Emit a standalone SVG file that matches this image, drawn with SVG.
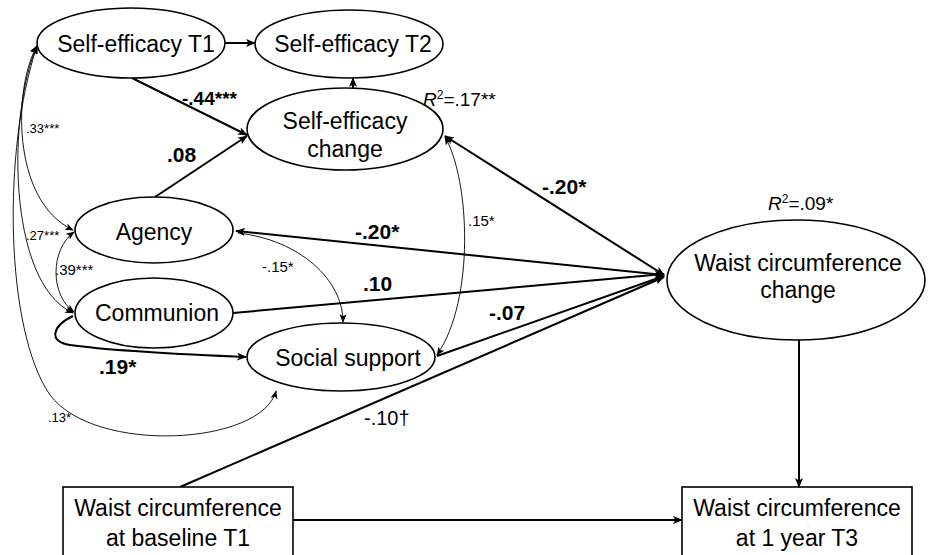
<svg xmlns="http://www.w3.org/2000/svg" width="929" height="555" viewBox="0 0 929 555">
  <style>
    .node ellipse, .node rect { fill: #fff; stroke: #000; stroke-width: 1.6; }
    .node text { font-family: "Liberation Sans", Arial, sans-serif; font-size: 23px; fill: #000; text-anchor: middle; }
    .path { fill: none; stroke: #000; stroke-width: 2; marker-end: url(#arrow); }
    .cov { fill: none; stroke: #000; stroke-width: 0.9; marker-start: url(#arrow-s); marker-end: url(#arrow-s); }
    .one { fill: none; stroke: #000; stroke-width: 0.9; marker-end: url(#arrow-s); }
    .lbl { font-family: "Liberation Sans", Arial, sans-serif; fill: #000; }
    .big { font-size: 21px; font-weight: bold; }
    .small { font-size: 13px; }
    .mid { font-size: 15px; }
    .r2 { font-size: 19px; }
  </style>
  <defs>
    <marker id="arrow" viewBox="0 0 10 8" refX="9" refY="4" markerWidth="10" markerHeight="8" markerUnits="userSpaceOnUse" orient="auto-start-reverse">
      <path d="M0,0 L10,4 L0,8 L2.5,4 z" fill="#000"/>
    </marker>
    <marker id="arrow-s" viewBox="0 0 10 8" refX="9" refY="4" markerWidth="9" markerHeight="7" markerUnits="userSpaceOnUse" orient="auto-start-reverse">
      <path d="M0,0 L10,4 L0,8 L2.5,4 z" fill="#000"/>
    </marker>
  </defs>

  <!-- connectors -->
  <g id="connectors">
    <!-- correlations on the left side -->
    <path class="cov" d="M37,46 C14,85 10,200 73,230"/>
    <path class="cov" d="M37,46 C8,110 6,282 73,313"/>
    <path class="cov" d="M37,46 C2,150 5,330 50,395 C95,455 262,445 276,391"/>
    <path class="cov" d="M74,232 C50,250 50,295 74,312"/>
    <!-- self-efficacy change with social support -->
    <path class="cov" d="M445,137 C470,180 475,300 437,355"/>
    <!-- agency to social support -->
    <path class="one" d="M238,233 C300,240 343,280 343,322"/>

    <!-- structural paths -->
    <path class="path" stroke-width="1.6" d="M225,43 L255,43"/>
    <path class="path" d="M132,78 L247,135"/>
    <path class="path" d="M155,197 L247,136"/>
    <path class="path" stroke-width="1.6" d="M353,88 L353,78"/>
    <path class="path" d="M445,136 L664,275" marker-start="url(#arrow)"/>
    <path class="path" d="M664,275 L236,231" marker-end="url(#arrow)"/>
    <path class="path" d="M233,313 L664,274"/>
    <path class="path" d="M437,356 L664,276"/>
    <path class="path" d="M180,487 L664,277"/>
    <path class="path" d="M73,316 C52,326 48,342 70,345 C120,352 200,355 246,357"/>
    <path class="path" stroke-width="1.6" d="M799,340 L799,487"/>
    <path class="path" stroke-width="1.6" d="M293,520 L682,520"/>
  </g>

  <!-- nodes -->
  <g id="se-t1" class="node">
    <ellipse cx="131" cy="43" rx="94" ry="35"/>
    <text x="136" y="52">Self-efficacy T1</text>
  </g>
  <g id="se-t2" class="node">
    <ellipse cx="349" cy="44" rx="94" ry="34"/>
    <text x="353" y="52">Self-efficacy T2</text>
  </g>
  <g id="se-change" class="node">
    <ellipse cx="345" cy="129" rx="98" ry="41"/>
    <text x="345" y="129">Self-efficacy</text>
    <text x="345" y="157">change</text>
  </g>
  <g id="agency" class="node">
    <ellipse cx="154" cy="230" rx="79" ry="33"/>
    <text x="154" y="240">Agency</text>
  </g>
  <g id="communion" class="node">
    <ellipse cx="154" cy="313" rx="79" ry="35"/>
    <text x="157" y="321">Communion</text>
  </g>
  <g id="social-support" class="node">
    <ellipse cx="341" cy="357" rx="94" ry="34"/>
    <text x="348" y="366">Social support</text>
  </g>
  <g id="waist-change" class="node">
    <ellipse cx="796" cy="280" rx="129" ry="60"/>
    <text x="798" y="271">Waist circumference</text>
    <text x="798" y="298">change</text>
  </g>
  <g id="waist-t1" class="node">
    <rect x="63" y="487" width="230" height="72"/>
    <text x="178" y="516">Waist circumference</text>
    <text x="178" y="546">at baseline T1</text>
  </g>
  <g id="waist-t3" class="node">
    <rect x="682" y="487" width="230" height="72"/>
    <text x="797" y="516">Waist circumference</text>
    <text x="797" y="546">at 1 year T3</text>
  </g>

  <!-- coefficients -->
  <g id="labels">
    <text class="lbl big" x="182" y="105" style="font-size:19px">-.44***</text>
    <text class="lbl big" x="167" y="162">.08</text>
    <text class="lbl small" x="26" y="133">.33***</text>
    <text class="lbl small" x="26" y="240">.27***</text>
    <text class="lbl mid" x="55" y="275">.39***</text>
    <text class="lbl big" x="99" y="374">.19*</text>
    <text class="lbl small" x="48" y="422">.13*</text>
    <text class="lbl mid" x="262" y="272">-.15*</text>
    <text class="lbl big" x="355" y="239">-.20*</text>
    <text class="lbl big" x="363" y="291">.10</text>
    <text class="lbl mid" x="468" y="226">.15*</text>
    <text class="lbl big" x="542" y="194">-.20*</text>
    <text class="lbl big" x="489" y="320">-.07</text>
    <text class="lbl" x="364" y="425" font-size="20">-.10†</text>
    <text class="lbl r2" x="423" y="106"><tspan font-style="italic">R</tspan><tspan dy="-7" font-size="12">2</tspan><tspan dy="7">=.17**</tspan></text>
    <text class="lbl r2" x="768" y="210"><tspan font-style="italic">R</tspan><tspan dy="-7" font-size="12">2</tspan><tspan dy="7">=.09*</tspan></text>
  </g>
</svg>
